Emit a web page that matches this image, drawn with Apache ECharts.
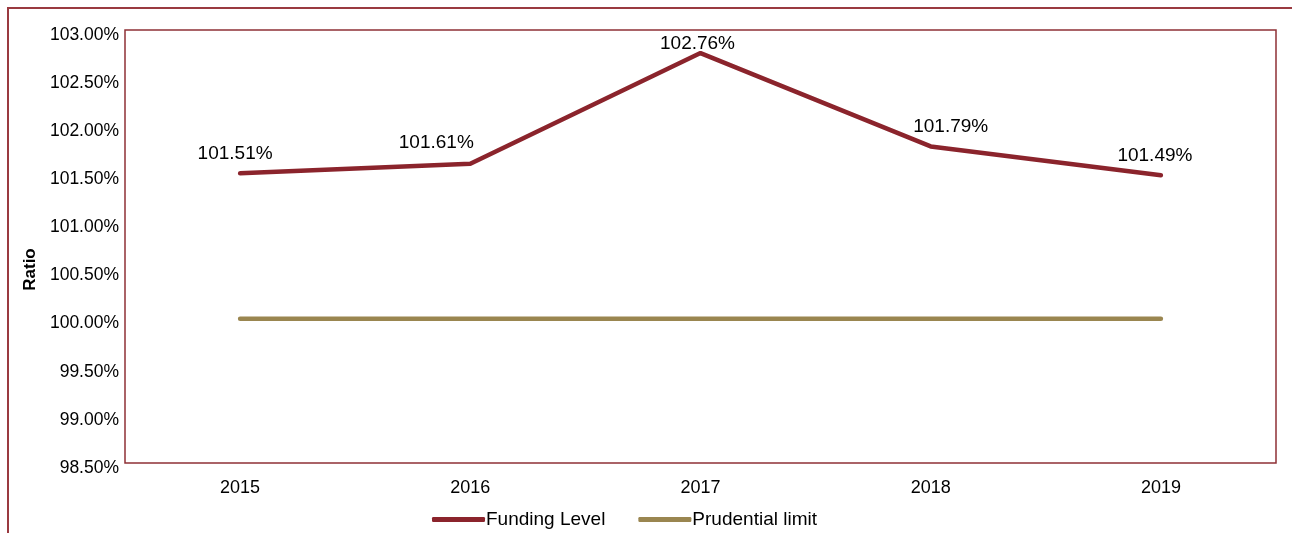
<!DOCTYPE html>
<html>
  <head>
    <meta charset="utf-8">
    <title>Funding Level</title>
    <style type="text/css">
      html, body { margin: 0; padding: 0; background: #fff; }
      #frame {
        position: absolute; left: 7px; top: 7px; right: 0; bottom: 0;
        border-top: 2px solid #9a3a40; border-left: 2px solid #9a3a40;
      }
      #main { position: absolute; left: 0; top: 0; width: 1292px; height: 533px; }
    </style>
  </head>
  <body>
    <div id="frame"></div>
    <div id="main"></div>
  </body>
  <script type="text/javascript" src="https://cdn.jsdelivr.net/npm/echarts@6/dist/echarts.min.js"></script>
  <script type="text/javascript">
    // data
    var years = ["2015", "2016", "2017", "2018", "2019"];
    var fundingLevel = [101.51, 101.61, 102.76, 101.79, 101.49];
    var prudentialLimit = [100, 100, 100, 100, 100];
    var yTicks = [98.5, 99, 99.5, 100, 100.5, 101, 101.5, 102, 102.5, 103];
    // label nudges (x, y) to mimic the original placement
    var labelShift = [[-5, 1], [-34, 0], [-3, 11], [20, 1], [-6, 1]];

    var dom = document.getElementById("main");
    var myChart = echarts.init(dom, null, { renderer: "canvas" });

    var option = {
      animation: false,
      textStyle: { fontFamily: "Liberation Sans, Arial, sans-serif", color: "#000" },
      grid: {
        left: 125, right: 16, top: 30, bottom: 70,
        show: true, borderColor: "#8e3036", borderWidth: 1.5
      },
      legend: {
        left: 432, top: 510, padding: 0,
        itemWidth: 53, itemHeight: 5, itemGap: 33,
        icon: "roundRect",
        textStyle: { fontSize: 19, color: "#000", padding: [0, 0, 0, -4] },
        data: [
          { name: "Funding Level", itemStyle: { color: "#8b242c", opacity: 1 } },
          { name: "Prudential limit", itemStyle: { color: "#9a8650", opacity: 1 } }
        ]
      },
      xAxis: {
        type: "category",
        data: years,
        boundaryGap: true,
        axisLine: { show: false },
        axisTick: { show: false },
        axisLabel: { fontSize: 18, color: "#000", margin: 16 }
      },
      yAxis: {
        type: "value",
        min: yTicks[0],
        max: yTicks[yTicks.length - 1],
        interval: 0.5,
        name: "Ratio",
        nameLocation: "middle",
        nameGap: 83,
        nameTextStyle: { fontSize: 17, fontWeight: "bold", color: "#000", padding: [0, 0, 0, -46] },
        axisLine: { show: false },
        axisTick: { show: false },
        splitLine: { show: false },
        axisLabel: {
          fontSize: 17.5, color: "#000", margin: 6, verticalAlign: "top", padding: [-4, 0, 0, 0],
          formatter: function (v) { return v.toFixed(2) + "%"; }
        }
      },
      series: [
        {
          name: "Funding Level",
          type: "line",
          data: fundingLevel,
          symbol: "circle",
          symbolSize: 2,
          showSymbol: true,
          lineStyle: { width: 4.5, color: "#8b242c", cap: "round" },
          itemStyle: { color: "#8b242c" },
          label: {
            show: true, position: "top", distance: 10,
            fontSize: 19, color: "#000",
            formatter: "{c}%"
          },
          labelLayout: function (p) {
            var s = labelShift[p.dataIndex] || [0, 0];
            return { dx: s[0], dy: s[1] };
          }
        },
        {
          name: "Prudential limit",
          type: "line",
          data: prudentialLimit,
          symbol: "none",
          lineStyle: { width: 4.5, color: "#9a8650", cap: "round" },
          itemStyle: { color: "#9a8650" }
        }
      ]
    };

    myChart.setOption(option);
    window.addEventListener("resize", myChart.resize);
  </script>
</html>
